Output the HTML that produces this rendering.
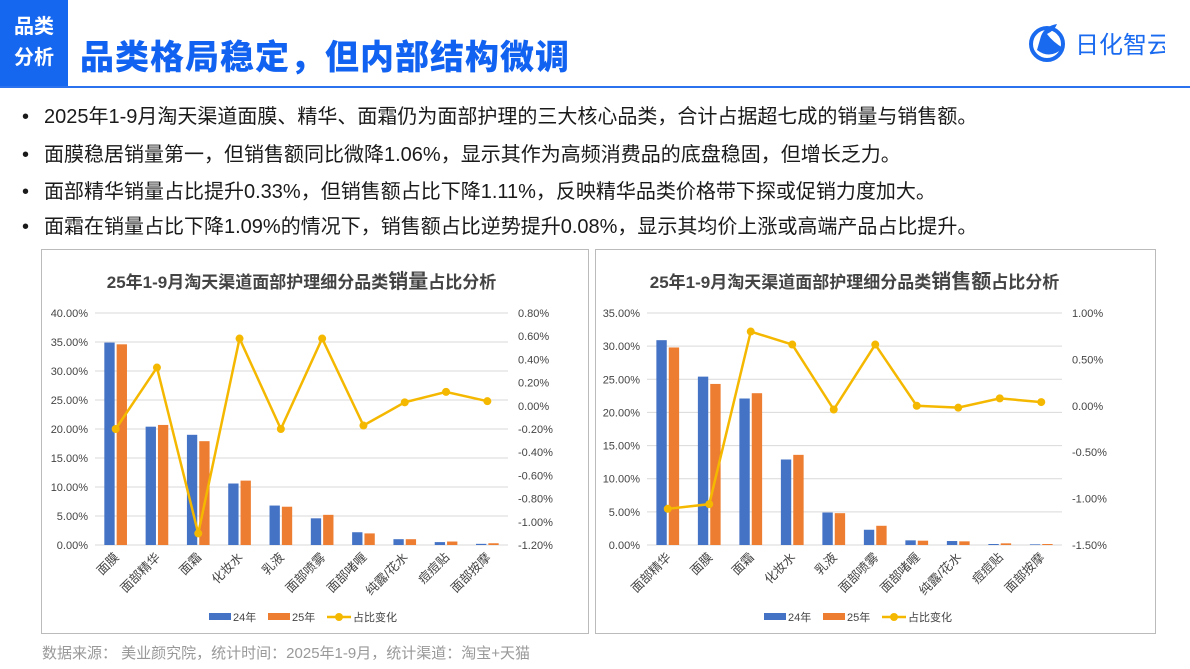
<!DOCTYPE html>
<html><head><meta charset="utf-8">
<style>
body{margin:0;width:1190px;height:669px;background:#fff;position:relative;overflow:hidden;font-family:"Liberation Sans","Noto Sans CJK SC",sans-serif;}
.abs{position:absolute;}
#badge{left:0;top:0;width:68px;height:87px;background:#1667f0;color:#fff;font-weight:bold;font-size:20px;line-height:31px;text-align:center;padding-top:12px;box-sizing:border-box;}
#title{left:80px;top:30px;font-size:34px;font-weight:900;color:#1262f2;letter-spacing:1px;}
#rule{left:0;top:86px;width:1190px;height:2px;background:#2a72ee;}
.bullet{left:22px;font-size:20px;color:#1a1a1a;white-space:nowrap;}
.bullet span{display:inline-block;width:22px;}
#source{left:42px;top:642px;font-size:15px;color:#999;}
.box{border:1px solid #bbb;box-sizing:border-box;}
</style></head><body>
<div id="badge" class="abs">品类<br>分析</div>
<div id="title" class="abs">品类格局稳定，但内部结构微调</div>
<div id="rule" class="abs"></div>
<div class="abs" style="left:1025px;top:20px;">
<svg width="140" height="44"><circle cx="22" cy="24" r="16" fill="none" stroke="#1a6af0" stroke-width="4"/><path d="M12 30 Q25 40 38 28 Q28 22 22 14 Q30 10 32 4 Q20 6 16 16Z" fill="#1a6af0"/><text x="50" y="33" font-size="24" fill="#1a6af0" font-family="Liberation Sans,Noto Sans CJK SC,sans-serif">日化智云</text></svg></div>
<div class="abs bullet" style="top:100px"><span>•</span>2025年1-9月淘天渠道面膜、精华、面霜仍为面部护理的三大核心品类，合计占据超七成的销量与销售额。</div>
<div class="abs bullet" style="top:138px"><span>•</span>面膜稳居销量第一，但销售额同比微降1.06%，显示其作为高频消费品的底盘稳固，但增长乏力。</div>
<div class="abs bullet" style="top:175px"><span>•</span>面部精华销量占比提升0.33%，但销售额占比下降1.11%，反映精华品类价格带下探或促销力度加大。</div>
<div class="abs bullet" style="top:210px"><span>•</span>面霜在销量占比下降1.09%的情况下，销售额占比逆势提升0.08%，显示其均价上涨或高端产品占比提升。</div>
<div class="abs box" style="left:41px;top:249px;width:548px;height:385px"></div>
<div class="abs box" style="left:595px;top:249px;width:561px;height:385px"></div>
<svg id="chart" class="abs" style="left:0;top:0" width="1190" height="669"></svg>
<div id="source" class="abs">数据来源：&nbsp;美业颜究院，统计时间：2025年1-9月，统计渠道：淘宝+天猫</div>
<script>
const volCats=["面膜","面部精华","面霜","化妆水","乳液","面部喷雾","面部啫喱","纯露/花水","痘痘贴","面部按摩"];
const vol24=[34.9,20.4,19.0,10.6,6.8,4.6,2.2,1.0,0.5,0.2];
const vol25=[34.6,20.7,17.9,11.1,6.6,5.2,2.0,1.0,0.6,0.3];
const volChg=[-0.20,0.33,-1.10,0.58,-0.20,0.58,-0.17,0.03,0.12,0.04];
const volLeftTicks=[0,5,10,15,20,25,30,35,40];
const volRightTicks=[-1.2,-1.0,-0.8,-0.6,-0.4,-0.2,0,0.2,0.4,0.6,0.8];
const salCats=["面部精华","面膜","面霜","化妆水","乳液","面部喷雾","面部啫喱","纯露/花水","痘痘贴","面部按摩"];
const sal24=[30.9,25.4,22.1,12.9,4.9,2.3,0.7,0.6,0.15,0.1];
const sal25=[29.8,24.3,22.9,13.6,4.8,2.9,0.65,0.55,0.25,0.15];
const salChg=[-1.11,-1.06,0.80,0.66,-0.04,0.66,0.00,-0.02,0.08,0.04];
const salLeftTicks=[0,5,10,15,20,25,30,35];
const salRightTicks=[-1.5,-1.0,-0.5,0,0.5,1.0];
const NS="http://www.w3.org/2000/svg";
const svg=document.getElementById('chart');
function mk(tag,attrs,parent){const e=document.createElementNS(NS,tag);for(const k in attrs)e.setAttribute(k,attrs[k]);(parent||svg).appendChild(e);return e;}
function draw(o){
  const g=mk('g',{});
  
  
  const top=313,bot=545;
  const lMax=o.lt[o.lt.length-1],rMin=o.rt[0],rMax=o.rt[o.rt.length-1];
  const yL=v=>bot-(v/lMax)*(bot-top);
  const yR=v=>bot-(v-rMin)/(rMax-rMin)*(bot-top);
  const cw=(o.x1-o.x0)/o.cats.length;
  const xC=i=>o.x0+cw*(i+0.5);
  const t=mk('text',{x:(o.x0+o.x1)/2,y:288,'text-anchor':'middle','font-size':17,'font-weight':'bold',fill:'#444'},g);
  t.innerHTML=o.title;
  
  
  o.lt.forEach(v=>{
    const l=mk('line',{x1:o.x0,x2:o.x1,y1:yL(v),y2:yL(v),stroke:'#d9d9d9','stroke-width':1},g);
    
    
    const tx=mk('text',{x:o.x0-7,y:yL(v)+4,'text-anchor':'end','font-size':11,fill:'#444'},g);
    tx.textContent=v.toFixed(2)+'%';
    
    
  });
  o.rt.forEach(v=>{
    const tx=mk('text',{x:o.x1+10,y:yR(v)+4,'text-anchor':'start','font-size':11,fill:'#444'},g);
    tx.textContent=v.toFixed(2)+'%';
    
    
  });
  const bw=cw*0.25;
  o.cats.forEach((c,i)=>{
    const b1=mk('rect',{x:xC(i)-bw-1,y:yL(o.a[i]),width:bw,height:bot-yL(o.a[i]),fill:'#4472c4'},g);
    
    
    const b2=mk('rect',{x:xC(i)+1,y:yL(o.b[i]),width:bw,height:bot-yL(o.b[i]),fill:'#ed7d31'},g);
    
    
    const tx=mk('text',{x:xC(i)+4,y:bot+13,'text-anchor':'end','font-size':12.5,fill:'#444',transform:`rotate(-45 ${xC(i)+4} ${bot+13})`},g);
    tx.textContent=c;
    
    
  });
  const pl=mk('polyline',{points:o.c.map((v,i)=>xC(i)+','+yR(v)).join(' '),fill:'none',stroke:'#f5b800','stroke-width':2.5},g);
  
  
  o.c.forEach((v,i)=>{
    const p=mk('circle',{cx:xC(i),cy:yR(v),r:4,fill:'#f5b800'},g);
    
    
  });
  const lx=o.lx,ly=617;
  const lg=mk('g',{},g);
  
  
  mk('rect',{x:lx,y:ly-4,width:22,height:7,fill:'#4472c4'},lg);
  let a=mk('text',{x:lx+24,y:ly+4,'font-size':11,fill:'#444'},lg);a.textContent='24年';
  mk('rect',{x:lx+59,y:ly-4,width:22,height:7,fill:'#ed7d31'},lg);
  a=mk('text',{x:lx+83,y:ly+4,'font-size':11,fill:'#444'},lg);a.textContent='25年';
  mk('line',{x1:lx+118,x2:lx+142,y1:ly,y2:ly,stroke:'#f5b800','stroke-width':2.5},lg);
  mk('circle',{cx:lx+130,cy:ly,r:4,fill:'#f5b800'},lg);
  a=mk('text',{x:lx+144,y:ly+4,'font-size':11,fill:'#444'},lg);a.textContent='占比变化';
}
draw({name:'volume-chart',title:'25年1-9月淘天渠道面部护理细分品类<tspan font-size="20">销量</tspan>占比分析',cats:volCats,a:vol24,b:vol25,c:volChg,lt:volLeftTicks,rt:volRightTicks,x0:95,x1:508,lx:209});
draw({name:'sales-chart',title:'25年1-9月淘天渠道面部护理细分品类<tspan font-size="20">销售额</tspan>占比分析',cats:salCats,a:sal24,b:sal25,c:salChg,lt:salLeftTicks,rt:salRightTicks,x0:647,x1:1062,lx:764});
</script>
</body></html>
